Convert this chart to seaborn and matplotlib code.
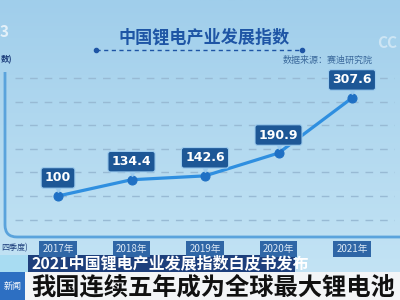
import numpy as np
import pandas as pd
import matplotlib
matplotlib.use("Agg")
import matplotlib.pyplot as plt
import seaborn as sns
from matplotlib.path import Path
from matplotlib.patches import PathPatch, Rectangle
from matplotlib.lines import Line2D
from matplotlib.colors import LinearSegmentedColormap
from matplotlib.transforms import offset_copy

# ---- data ----
years = ["2017年", "2018年", "2019年", "2020年", "2021年"]
index_values = [100, 134.4, 142.6, 190.9, 307.6]
grid_levels = [50, 100, 150, 200, 250, 300, 350]

title = "中国锂电产业发展指数"
source = "数据来源：赛迪研究院"
caption = "2021中国锂电产业发展指数白皮书发布"
headline = "我国连续五年成为全球最大锂电池"

sns.set_theme(style="white")
plt.rcParams["font.family"] = ["Noto Sans CJK SC", "DejaVu Sans"]

W, H = 400, 300
fig = plt.figure(figsize=(4, 3), dpi=100)


def fx(x):
    return x / W


def fy(y):
    return 1 - y / H


# ---- sky-blue backdrop ----
bg = fig.add_axes([0, 0, 1, 1], zorder=0)
bg.set_axis_off()
grad = np.linspace(0, 1, 256).reshape(-1, 1)
sky = LinearSegmentedColormap.from_list("sky", ["#a0ceeb", "#b4daf0", "#c6e5f5"])
bg.imshow(grad, aspect="auto", cmap=sky, extent=[0, 1, 0, 1], origin="upper")

# ---- main chart ----
df = pd.DataFrame({"pos": range(len(years)), "year": years, "value": index_values})

ax = fig.add_axes([fx(15), fy(237), (395 - 15) / W, (237 - 70) / H], zorder=2)
ax.patch.set_alpha(0)
sns.lineplot(data=df, x="pos", y="value", ax=ax, color="#2f8fe0", lw=2.3,
             marker="o", markersize=6.5, markerfacecolor="#1f70c4",
             markeredgecolor="#1f70c4")
ax.set_xlim((15 - 58) / 73.5, (395 - 58) / 73.5)
ax.set_ylim(13.1, 366.9)
ax.set_xlabel("")
ax.set_ylabel("")
ax.set_yticks(grid_levels)
ax.set_yticklabels([])
ax.set_xticks(df["pos"], years)
ax.grid(axis="y", color="#98bad4", lw=1, ls=(0, (5.5, 5)))
ax.grid(axis="x", visible=False)
for s in ax.spines.values():
    s.set_visible(False)
ax.tick_params(length=0)
ax.tick_params(axis="x", pad=5, labelsize=7, labelcolor="#dce9f5")
for t in ax.get_xticklabels():
    t.set_bbox(dict(boxstyle="square,pad=0.3", fc="#2f66a6", ec="none"))

# value callouts
for i, v in enumerate(index_values):
    ax.annotate(f"{v:g}", xy=(i, v), xytext=(0, 13), textcoords="offset points",
                ha="center", va="center", fontsize=9, fontweight="bold",
                color="white", family="DejaVu Sans",
                bbox=dict(boxstyle="round,pad=0.3,rounding_size=0.2",
                          fc="#1d5796", ec="#9ccbee", lw=0.8))
ax.plot(df["pos"], df["value"], ls="none", marker="v", ms=4, color="#9ccbee",
        transform=offset_copy(ax.transData, fig=fig, x=0, y=7, units="dots"))

# rounded frame on the left and bottom
frame = Path([(fx(5), fy(72)), (fx(5), fy(225)), (fx(5), fy(237)),
              (fx(17), fy(237)), (fx(400), fy(237))],
             [Path.MOVETO, Path.LINETO, Path.CURVE3, Path.CURVE3, Path.LINETO])
fig.add_artist(PathPatch(frame, transform=fig.transFigure, fill=False,
                         ec="#5aa3dc", lw=2, zorder=1))

# ---- headings ----
fig.text(fx(204), fy(38), title, ha="center", va="center", fontsize=12.3,
         fontweight="bold", color="#1e55a5")
fig.add_artist(Line2D([fx(96), fx(302)], [fy(50), fy(50)], ls=(0, (3, 2.5)),
                      lw=1, color="#1e55a5"))
fig.add_artist(Line2D([fx(96), fx(302)], [fy(50), fy(50)], ls="none",
                      marker="o", ms=3, color="#1e55a5"))
fig.text(fx(373), fy(60), source, ha="right", va="center", fontsize=6.5,
         color="#3b6a9c")

fig.text(fx(9), fy(32), "3", ha="right", va="center", fontsize=11,
         fontweight="bold", color="white", alpha=0.7)
fig.text(fx(1), fy(60), "数)", ha="left", va="center", fontsize=6,
         fontweight="bold", color="#1d3f7c")
fig.text(fx(1), fy(248), "四季度)", ha="left", va="center", fontsize=5.8,
         color="#1d3f7c")
fig.text(fx(377), fy(43), "CC", ha="left", va="center", fontsize=11,
         fontweight="bold", color="white", alpha=0.45)

# ---- lower caption bars ----
fig.add_artist(Rectangle((fx(0), fy(272)), fx(28), 17 / H,
                         transform=fig.transFigure, fc="#a8dcf2", ec="none"))
fig.add_artist(Rectangle((fx(28), fy(272)), (295 - 28) / W, 17 / H,
                         transform=fig.transFigure, fc="#1d3f7c", ec="none"))
fig.text(fx(31), fy(263.5), caption, ha="left", va="center", fontsize=11.5,
         fontweight="bold", color="white")
fig.add_artist(Rectangle((fx(25), 0), 375 / W, 28 / H,
                         transform=fig.transFigure, fc="#f3f5f7", ec="none"))
fig.text(fx(31), fy(287), headline, ha="left", va="center", fontsize=17.5,
         fontweight="bold", color="#111111")
fig.add_artist(Rectangle((0, 0), 25 / W, 28 / H,
                         transform=fig.transFigure, fc="#2d6fc2", ec="none"))
fig.text(fx(12.5), fy(287), "新闻", ha="center", va="center", fontsize=6.5,
         color="white")

fig.savefig("out.png", dpi=100)
